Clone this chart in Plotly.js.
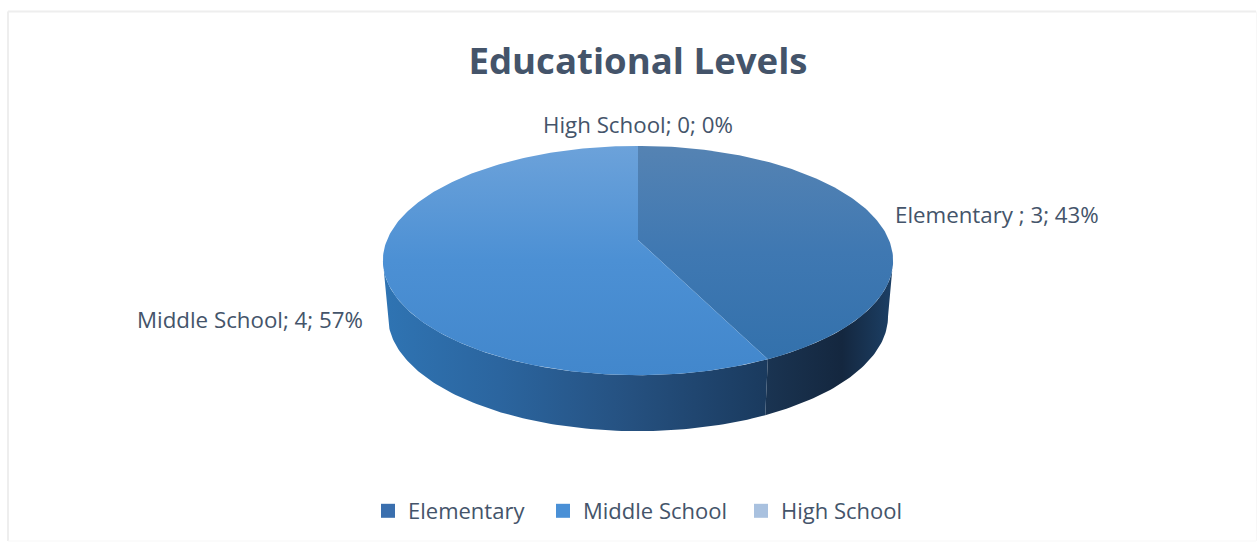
<!DOCTYPE html>
<html>
<head>
<meta charset="utf-8">
<script src="https://cdn.plot.ly/plotly-3.0.1.min.js"></script>
<style>html,body{margin:0;padding:0;background:#fff}#chart{width:1258px;height:544px}</style>
</head>
<body>
<div id="chart"></div>
<script>
// Pupil counts per educational level
const categories = ['Elementary ', 'Middle School', 'High School'];
const counts = [3, 4, 0];
const swatches = ['#3a6fae', '#4a90d6', '#a9c1df'];

// Lighting of each slice: top face runs bottom to top, side wall runs left to right
const topShades = [
  [[0, '#3371ac'], [0.5, '#3f78b2'], [1, '#5583b3']],
  [[0, '#4287cc'], [0.5, '#4c90d4'], [1, '#6ca2da']],
  [[0, '#a9c1df'], [1, '#a9c1df']]
];
const wallShades = [
  [[0, '#1a3452'], [0.6, '#14273f'], [1, '#1c4066']],
  [[0, '#2f74b3'], [0.3, '#2b659f'], [0.65, '#25507f'], [1, '#1a3a5e']],
  [[0, '#a9c1df'], [1, '#a9c1df']]
];

// Tilted-disc projection on an axis measured in page pixels
const cx = 638, rimY = 240, rimK = 251, tilt = 0.179, slopeY = -68;
const wallDrop = 56, wallShrink = 0.98;
const deg = Math.PI / 180;

function rim(theta) {
  const u = Math.sin(theta), v = Math.cos(theta), d = 1 + tilt * v;
  return [cx + rimK * u / d, (slopeY * v + rimY) / d];
}
function lowerRim(theta) {
  const p = rim(theta);
  return [cx + (p[0] - cx) * wallShrink, p[1] + wallDrop];
}
function sweep(from, to, fn) {
  const pts = [], n = Math.max(2, Math.ceil(Math.abs(to - from) / deg));
  for (let i = 0; i <= n; i++) pts.push(fn(from + (to - from) * i / n));
  return pts;
}

const total = counts.reduce((a, b) => a + b, 0);
const frontFrom = Math.acos(-tilt);          // right-hand silhouette
const frontTo = 2 * Math.PI - frontFrom;     // left-hand silhouette

const traces = [];
let start = 0;
counts.forEach((value, i) => {
  const end = start + value / total * 2 * Math.PI;
  if (value > 0) {
    // side wall: the part of this slice's arc that faces the viewer
    const a = Math.max(start, frontFrom), b = Math.min(end, frontTo);
    if (b > a) {
      const wall = sweep(a, b, rim).concat(sweep(b, a, lowerRim));
      traces.push({
        type: 'scatter', mode: 'lines', hoverinfo: 'skip', showlegend: false,
        x: wall.map(p => p[0]), y: wall.map(p => p[1]),
        line: {width: 0}, fill: 'toself',
        fillgradient: {type: 'horizontal', colorscale: wallShades[i]}
      });
    }
    // top face
    const face = [[cx, rimY]].concat(sweep(start, end, rim));
    traces.push({
      type: 'scatter', mode: 'lines', hoverinfo: 'skip', showlegend: false,
      x: face.map(p => p[0]), y: face.map(p => p[1]),
      line: {width: 0}, fill: 'toself',
      fillgradient: {type: 'vertical', colorscale: topShades[i]}
    });
  }
  start = end;
});

// Legend keys, one small legend per level so each can sit at its own spot
const legendIds = ['legend', 'legend2', 'legend3'];
categories.forEach((name, i) => {
  traces.push({
    type: 'scatter', mode: 'markers', name: name.trim(), x: [null], y: [null],
    legend: legendIds[i], hoverinfo: 'skip',
    marker: {symbol: 'square', size: 14, color: swatches[i]}
  });
});

const label = i => categories[i] + '; ' + counts[i] + '; ' + Math.round(counts[i] / total * 100) + '%';
const ink = '#44546a';
const face = 'Open Sans, sans-serif';
const labelFont = {family: face, size: 22.3, color: ink};

const legendAt = px => ({
  orientation: 'h', xanchor: 'left', yanchor: 'middle',
  x: px / 1258, y: 1 - 511 / 544,
  font: {family: face, size: 22, color: ink},
  bgcolor: 'rgba(0,0,0,0)', itemwidth: 30
});

const layout = {
  width: 1258, height: 544,
  margin: {l: 0, r: 0, t: 0, b: 0},
  paper_bgcolor: '#ffffff', plot_bgcolor: '#ffffff',
  title: {
    text: '<b>Educational Levels</b>',
    x: 638 / 1258, xanchor: 'center', y: 1 - 61 / 544, yanchor: 'middle',
    font: {family: face, size: 36.6, color: ink}
  },
  xaxis: {range: [0, 1258], visible: false, fixedrange: true},
  yaxis: {range: [544, 0], visible: false, fixedrange: true},
  showlegend: true,
  legend: legendAt(368),
  legend2: legendAt(543),
  legend3: legendAt(741),
  annotations: [
    {i: 0, x: 893, y: 214, xanchor: 'left'},
    {i: 1, x: 365, y: 319, xanchor: 'right'},
    {i: 2, x: 638, y: 124, xanchor: 'center'}
  ].map(a => ({
    text: label(a.i), x: a.x, y: a.y, xref: 'x', yref: 'y',
    xanchor: a.xanchor, yanchor: 'middle', showarrow: false, font: labelFont
  })),
  // Chart frame: top and left edges read stronger than right and bottom
  shapes: [
    {type: 'line', xref: 'x', yref: 'y', x0: 8, x1: 1256, y0: 11.5, y1: 11.5, line: {color: '#eeeeee', width: 2}},
    {type: 'line', xref: 'x', yref: 'y', x0: 8, x1: 8, y0: 11.5, y1: 541, line: {color: '#eeeeee', width: 2}},
    {type: 'line', xref: 'x', yref: 'y', x0: 1256.5, x1: 1256.5, y0: 11.5, y1: 541, line: {color: '#f7f7f7', width: 1}},
    {type: 'line', xref: 'x', yref: 'y', x0: 8, x1: 1256, y0: 541, y1: 541, line: {color: '#f7f7f7', width: 1}}
  ]
};

Plotly.newPlot('chart', traces, layout, {displayModeBar: false, staticPlot: true});
</script>
</body>
</html>
